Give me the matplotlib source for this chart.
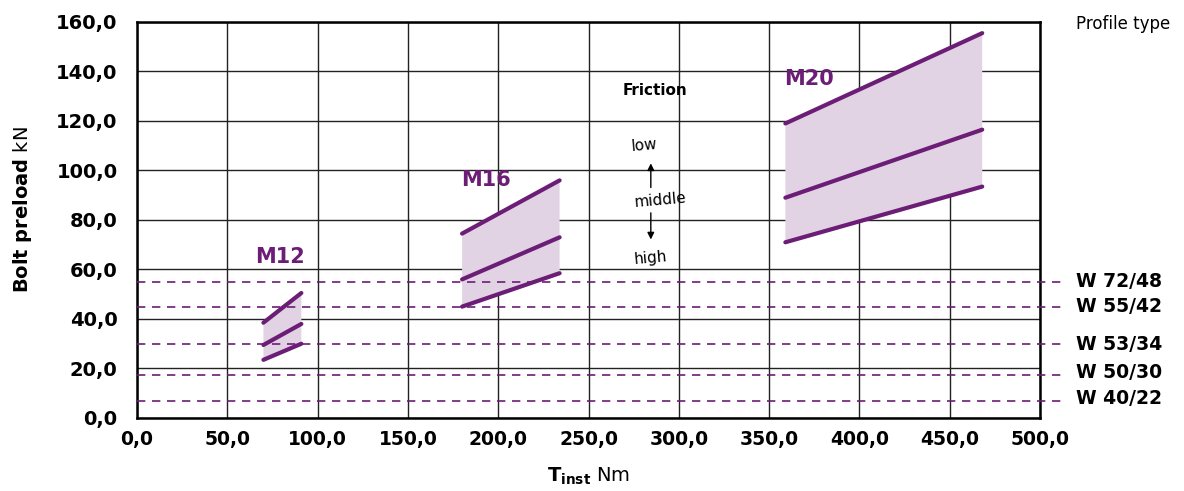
import matplotlib.pyplot as plt

plt.rcParams['font.family'] = ['DejaVu Sans']
plt.rcParams['mathtext.fontset'] = 'custom'
plt.rcParams['mathtext.rm'] = 'DejaVu Sans'
plt.rcParams['mathtext.bf'] = 'DejaVu Sans:bold'

# --------------------------------------------------
# Data
# --------------------------------------------------
sizes = ["M12", "M16", "M20"]
torque_start = [70, 180, 359]
torque_end = [91, 234, 468]
# preload at start / end for low, middle, high friction
low_start = [38.5, 74.5, 119]
low_end = [50.5, 96, 155.5]
mid_start = [29.5, 56, 89]
mid_end = [38, 73, 116.5]
high_start = [23.5, 45, 71]
high_end = [30, 58.5, 93.5]
label_pos = [(79, 65), (193, 96), (372, 137)]

profiles = ["W 72/48", "W 55/42", "W 53/34", "W 50/30", "W 40/22"]
profile_load = [55, 45, 30, 17.5, 7]
profile_label_y = [55, 45, 29.5, 18.5, 8]

x_ticks = [0, 50, 100, 150, 200, 250, 300, 350, 400, 450, 500]
y_ticks = [0, 20, 40, 60, 80, 100, 120, 140, 160]

purple = "#6c1d76"
fill_col = "#e2d3e4"

fig = plt.figure(figsize=(11.84, 4.91), dpi=100)
ax = fig.add_axes([0.1157, 0.1487, 0.7627, 0.8065])

# --------------------------------------------------
# Bands and friction lines
# --------------------------------------------------
for i in range(len(sizes)):
    xs = [torque_start[i], torque_end[i], torque_end[i], torque_start[i]]
    ys = [low_start[i], low_end[i], high_end[i], high_start[i]]
    ax.fill(xs, ys, color=fill_col, lw=0, zorder=2)
    for s, e in [(low_start, low_end), (mid_start, mid_end), (high_start, high_end)]:
        ax.plot([torque_start[i], torque_end[i]], [s[i], e[i]], color=purple,
                lw=3, solid_capstyle="round", zorder=4)
    ax.text(label_pos[i][0], label_pos[i][1], sizes[i], color=purple,
            fontsize=15, fontweight="bold", ha="center", va="center", zorder=5)

# --------------------------------------------------
# Profile type lines
# --------------------------------------------------
for name, load, ly in zip(profiles, profile_load, profile_label_y):
    ax.plot([0, 512], [load, load], color=purple, lw=1.2, ls=(0, (5, 4)),
            clip_on=False, zorder=3)
    ax.text(520, ly, name, fontsize=13.5, fontweight="bold", ha="left",
            va="center", clip_on=False)

fig.text(0.949, 0.951, "Profile type", fontsize=12, ha="center", va="center")

# --------------------------------------------------
# Friction annotation
# --------------------------------------------------
ax.text(287, 132.5, "Friction", fontsize=11, fontweight="bold", ha="center", va="center")
ax.text(281, 110, "low", fontsize=11, ha="center", va="center", rotation=5)
ax.text(289.5, 88, "middle", fontsize=11, ha="center", va="center", rotation=5)
ax.text(284.5, 64.5, "high", fontsize=11, ha="center", va="center", rotation=5)
ax.annotate("", xy=(284.5, 104), xytext=(284.5, 92),
            arrowprops=dict(arrowstyle="-|>", color="black", lw=1, mutation_scale=10))
ax.annotate("", xy=(284.5, 71), xytext=(284.5, 84),
            arrowprops=dict(arrowstyle="-|>", color="black", lw=1, mutation_scale=10))

# --------------------------------------------------
# Axes styling
# --------------------------------------------------
ax.set_xlim(0, 500)
ax.set_ylim(0, 160)
ax.set_xticks(x_ticks)
ax.set_yticks(y_ticks)
ax.set_xticklabels([f"{v:.1f}".replace(".", ",") for v in x_ticks],
                   fontsize=13.5, fontweight="bold")
ax.set_yticklabels([f"{v:.1f}".replace(".", ",") for v in y_ticks],
                   fontsize=14, fontweight="bold")
ax.tick_params(length=0)
ax.tick_params(axis="x", pad=9)
ax.tick_params(axis="y", pad=14)
ax.grid(True, color="#222222", lw=1)
ax.set_axisbelow(True)
for sp in ax.spines.values():
    sp.set_linewidth(1.8)
    sp.set_color("black")

ax.set_xlabel(r"$\mathbf{T}_{\mathbf{inst}}$ Nm", fontsize=14, labelpad=12)
ax.set_ylabel(r"$\mathbf{Bolt\ preload}$ kN", fontsize=14)
ax.yaxis.set_label_coords(-0.114, 0.525)

fig.savefig("out.png", dpi=100)
